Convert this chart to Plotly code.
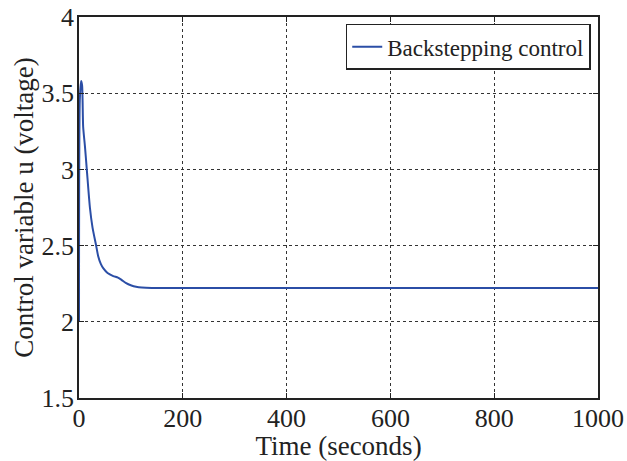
import plotly.graph_objects as go

time_s = [0, 1.5, 4, 6, 8, 11.5, 15, 21, 26, 33, 37, 42, 47, 55, 66, 75, 82, 90, 101, 110, 121, 140, 200, 400, 600, 800, 1000]
u_volt = [2.0, 3.45, 3.58, 3.55, 3.28, 3.15, 3.0, 2.75, 2.62, 2.5, 2.43, 2.38, 2.35, 2.32, 2.30, 2.29, 2.275, 2.255, 2.238, 2.23, 2.225, 2.222, 2.222, 2.222, 2.222, 2.222, 2.222]

x_ticks = [0, 200, 400, 600, 800, 1000]
y_ticks = [1.5, 2, 2.5, 3, 3.5, 4]
y_tick_labels = ["1.5", "2", "2.5", "3", "3.5", "4"]

serif = "Liberation Serif"
fig = go.Figure()
fig.add_trace(go.Scatter(x=time_s, y=u_volt, mode="lines", name="Backstepping control",
                         line=dict(color="#2b4ea6", width=2, shape="spline", smoothing=0.6)))

axis_common = dict(showline=True, linecolor="#222222", linewidth=1.5, mirror="ticks",
                   ticks="inside", ticklen=5, tickcolor="#222222",
                   showgrid=True, gridcolor="#333333", griddash="dot", gridwidth=1,
                   zeroline=False, automargin=False,
                   tickfont=dict(family=serif, size=26, color="#222222"))
fig.update_layout(
    width=627, height=461,
    margin=dict(l=79, r=29, t=17, b=63),
    paper_bgcolor="white", plot_bgcolor="white",
    font=dict(family=serif, color="#222222"),
    showlegend=True,
    legend=dict(x=0.986, y=0.982, xanchor="right", yanchor="top",
                bgcolor="white", bordercolor="#222222", borderwidth=1.5,
                font=dict(family=serif, size=23), itemwidth=30, tracegroupgap=0),
    xaxis=dict(range=[0, 1000], tickvals=x_ticks, ticklabelstandoff=-4,
               title=dict(text="Time (seconds)", font=dict(family=serif, size=27), standoff=0), **axis_common),
    yaxis=dict(range=[1.5, 4], tickvals=y_ticks, ticktext=y_tick_labels, ticklabelstandoff=-2,
               title=dict(text="Control variable u (voltage)", font=dict(family=serif, size=27), standoff=0), **axis_common),
)
fig.write_html("out.html")
